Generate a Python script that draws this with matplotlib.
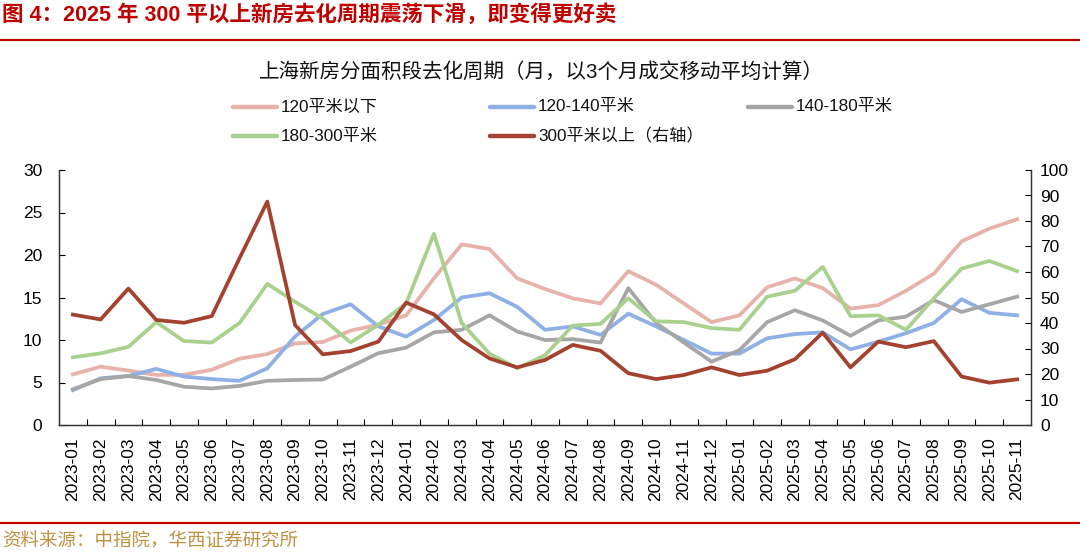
import matplotlib
matplotlib.use("Agg")
import matplotlib.pyplot as plt
from matplotlib.lines import Line2D

plt.rcParams['font.family'] = ['Liberation Sans', 'Noto Sans CJK SC', 'DejaVu Sans']

# months 2023-01 .. 2025-11
months = []
for y in [2023, 2024, 2025]:
    for m in range(1, 13):
        if y == 2025 and m > 11:
            break
        months.append(f"{y}-{m:02d}")

# left axis series (months)
below_120 = [5.96, 6.86, 6.4, 5.9, 5.9, 6.5, 7.8, 8.35, 9.6, 9.76, 11.1, 11.8,
             12.9, 17.25, 21.25, 20.7, 17.25, 16.0, 14.9, 14.3, 18.1, 16.5, 14.3, 12.1,
             12.9, 16.2, 17.25, 16.1, 13.7, 14.1, 15.8, 17.8, 21.6, 23.1, 24.2]
s120_140 = [4.1, 5.5, 5.76, 6.6, 5.7, 5.4, 5.2, 6.67, 10.4, 13.06, 14.2, 11.6,
            10.4, 12.35, 15.0, 15.5, 13.9, 11.2, 11.6, 10.6, 13.1, 11.6, 10.0, 8.4,
            8.4, 10.2, 10.7, 10.9, 8.9, 9.8, 10.8, 12.0, 14.8, 13.2, 12.9]
s140_180 = [4.2, 5.4, 5.76, 5.3, 4.5, 4.3, 4.6, 5.2, 5.3, 5.35, 6.86, 8.45,
            9.1, 10.9, 11.2, 12.9, 11.0, 10.0, 10.1, 9.7, 16.1, 12.0, 9.7, 7.45,
            8.8, 12.1, 13.5, 12.3, 10.5, 12.3, 12.75, 14.7, 13.3, 14.2, 15.1]
s180_300 = [7.96, 8.43, 9.2, 12.1, 9.88, 9.7, 12.0, 16.6, 14.5, 12.5, 9.7, 11.8,
            14.3, 22.5, 12.0, 8.4, 6.67, 8.2, 11.7, 11.9, 14.9, 12.2, 12.1, 11.4,
            11.2, 15.1, 15.8, 18.6, 12.8, 12.9, 11.2, 14.9, 18.4, 19.3, 18.1]
# right axis series
above_300 = [43.3, 41.4, 53.5, 41.2, 40.1, 42.7, 65.4, 87.6, 39.2, 27.7, 29.0, 32.7,
             48.0, 43.4, 33.3, 26.1, 22.6, 25.5, 31.4, 29.1, 20.3, 18.0, 19.6, 22.6,
             19.6, 21.3, 25.8, 36.2, 22.6, 32.7, 30.5, 32.9, 19.0, 16.6, 17.9]

names = ["120平米以下", "120-140平米", "140-180平米", "180-300平米", "300平米以上（右轴）"]
colors = ["#E6B2AA", "#8EB0E6", "#A6A6A6", "#A9D18E", "#A44230"]

fig = plt.figure(figsize=(10.8, 5.57), dpi=100)
W, H = 1080, 557
ax = fig.add_axes([59 / W, (H - 425) / H, (1031 - 59) / W, (425 - 170) / H])
ax2 = ax.twinx()

x = list(range(len(months)))
lw = 2.7
ax.plot(x, below_120, color=colors[0], lw=lw, zorder=2)
ax.plot(x, s120_140, color=colors[1], lw=lw, zorder=2)
ax.plot(x, s140_180, color=colors[2], lw=lw, zorder=2)
ax.plot(x, s180_300, color=colors[3], lw=lw, zorder=2)
ax2.plot(x, above_300, color=colors[4], lw=lw, zorder=3)

ax.set_xlim(-0.5, len(months) - 0.5)
ax.set_ylim(0, 30)
ax2.set_ylim(0, 100)
ax.set_yticks(range(0, 31, 5))
ax2.set_yticks(range(0, 101, 10))
ax.set_xticks(x)
ax.set_xticklabels(months, rotation=90, fontsize=12.5)
ax.set_xticks([i + 0.5 for i in x[:-1]], minor=True)
ax.tick_params(axis='x', which='major', length=0, pad=9)
ax.tick_params(axis='x', which='minor', direction='in', length=4, width=0.8)
ax.tick_params(axis='y', direction='in', length=4, width=0.8, labelsize=12.5, pad=12)
ax2.tick_params(axis='y', direction='in', length=4, width=0.8, labelsize=12.5, pad=6.5)

for a in (ax, ax2):
    a.spines['top'].set_visible(False)
    for s in ['left', 'right', 'bottom']:
        a.spines[s].set_linewidth(0.9)
        a.spines[s].set_color('#333333')

# title and rules
fig.text(2 / W, 1 - 15 / H, "图 4：2025 年 300 平以上新房去化周期震荡下滑，即变得更好卖",
         color='#C00000', fontsize=15.5, fontweight='bold', va='center', ha='left',
         family=['Liberation Sans', 'Noto Sans CJK SC'])
fig.add_artist(Line2D([0, 1], [1 - 40 / H, 1 - 40 / H], color='#C00000', lw=1.6))
fig.add_artist(Line2D([0, 1], [1 - 523 / H, 1 - 523 / H], color='#C00000', lw=1.6))

fig.text(541 / W, 1 - 72 / H, "上海新房分面积段去化周期（月，以3个月成交移动平均计算）",
         fontsize=14.8, ha='center', va='center', color='#111111')

# legend
leg_pos = [(233, 107), (490, 107), (748, 107), (233, 136), (490, 136)]
for name, c, (lx, ly) in zip(names, colors, leg_pos):
    fig.add_artist(Line2D([lx / W, (lx + 44) / W], [1 - ly / H, 1 - ly / H],
                          color=c, lw=3.2, solid_capstyle='round'))
    fig.text((lx + 48) / W, 1 - ly / H, name, fontsize=12.3, va='center', ha='left',
             color='#111111')

fig.text(2 / W, 1 - 541 / H, "资料来源：中指院，华西证券研究所", fontsize=13.3,
         color='#BF9040', va='center', ha='left', family=['Noto Sans CJK SC'])

fig.savefig("out.png", dpi=100)
